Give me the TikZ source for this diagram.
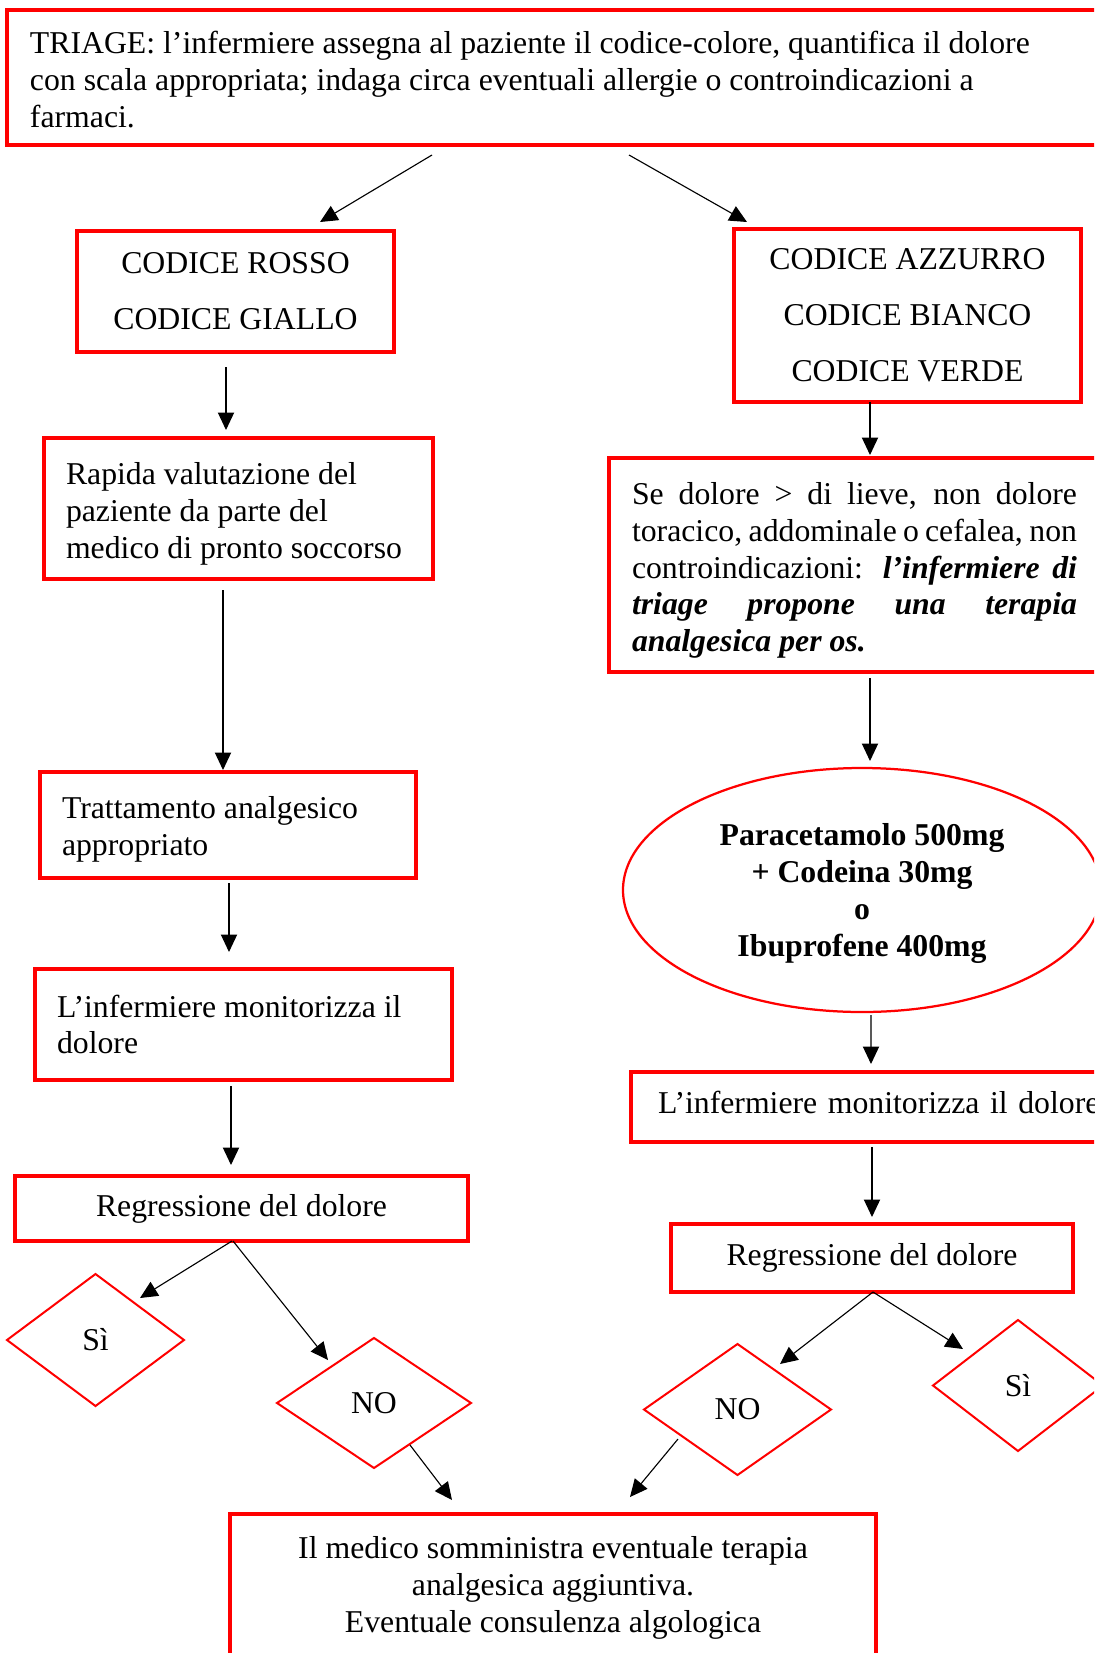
\documentclass[tikz,border=0pt]{standalone}
\usepackage{fontspec}
\setmainfont{Liberation Serif}
\usetikzlibrary{positioning,calc}
\usetikzlibrary{shapes.geometric, arrows.meta}
\newcommand{\wsp}{\spaceskip=0pt\xspaceskip=0pt\relax}
\tikzset{
  bx/.style={rectangle, draw=red, line width=1.25pt, inner ysep=0pt, outer sep=0pt, font=\fontsize{12.7}{14.7}\selectfont},
  bxl/.style={bx, align=left, inner xsep=8.8pt},
  bxc/.style={bx, align=center},
  dm/.style={diamond, draw=red, line width=0.8pt, inner sep=1pt, outer sep=0pt, font=\fontsize{12.7}{14.7}\selectfont},
  el/.style={ellipse, draw=red, line width=0.9pt, inner sep=0pt, outer sep=0pt, align=center, font=\fontsize{12.7}{14.7}\selectfont\bfseries},
  ar/.style={-{Triangle[length=7pt,width=6.5pt]}, line width=0.45pt},
  node distance=7mm
}

\begin{document}
\begin{tikzpicture}
	\useasboundingbox (0,0) rectangle (437.6pt,-661.2pt);
	\clip (0,0) rectangle (437.6pt,-661.2pt);
	\node[bxl, inner xsep=9.2pt, text width=426.8pt, text height=10.6pt, minimum height=54pt] (triage) at (225.4pt,-31pt)
	  {\wsp TRIAGE: l’infermiere assegna al paziente il codice-colore, quantifica il dolore\\
	   con scala appropriata; indaga circa eventuali allergie o controindicazioni a\\
	   farmaci.};
	% codice rosso / giallo
	\node[bxc, font=\fontsize{12.7}{22.4}\selectfont, minimum width=126.8pt, minimum height=48.4pt,
	  below=34.4pt of triage, xshift=-131.2pt] (rosso) {CODICE ROSSO\\CODICE GIALLO};
	\node[bxl, text width=138pt, text height=12.9pt, minimum height=56.4pt, below=34.4pt of rosso, xshift=1.2pt] (rapida)
	  {\wsp Rapida valutazione del\\paziente da parte del\\medico di pronto soccorso};
	\node[bxl, text width=132.8pt, text height=12.3pt, minimum height=42.4pt, below=77.2pt of rapida, xshift=-4.2pt] (tratt)
	  {\wsp Trattamento analgesico\\appropriato};
	\node[bxl, text width=149.2pt, minimum height=44.4pt, below=36.4pt of tratt, xshift=6.2pt] (monitL)
	  {\wsp L’infermiere monitorizza il\\dolore};
	\node[bxc, minimum width=181.2pt, minimum height=26pt, below=38.4pt of monitL, xshift=-0.8pt] (regrL)
	  {Regressione del dolore};
	\node[dm, minimum width=70.8pt, minimum height=52.8pt, below=13.2pt of regrL, xshift=-58.4pt] (siL) {Sì};
	\node[dm, minimum width=77.6pt, minimum height=52pt, below=38.8pt of regrL, xshift=53pt] (noL) {NO};
	% codice azzurro / bianco / verde
	\node[bxc, font=\fontsize{12.7}{22.4}\selectfont, minimum width=138.8pt, minimum height=69.2pt,
	  below=33.6pt of triage, xshift=137.6pt] (azzurro) {CODICE AZZURRO\\CODICE BIANCO\\CODICE VERDE};
	\node[bx, align=justify, inner xsep=9.2pt, text width=178pt, text height=13.1pt,
	  minimum height=85.6pt, below=22.4pt of azzurro, xshift=-21.2pt] (sedol)
	  {\tolerance=10000\hyphenpenalty=10000 Se dolore \textgreater{} di lieve, non dolore\linebreak
	   toracico, addominale o cefalea, non\linebreak
	   controindicazioni: \textbf{\textit{l’infermiere di\linebreak
	   triage propone una terapia\linebreak
	   analgesica per os.}}};
	\node[el, minimum width=191.2pt, minimum height=97.6pt, text height=55.7pt, below=38.4pt of sedol, xshift=3pt] (farmaci)
	  {Paracetamolo 500mg\\+ Codeina 30mg\\o\\Ibuprofene 400mg};
	\node[bxl, inner xsep=10.8pt, text width=190pt, text depth=3.4pt, minimum height=28pt, below=24pt of farmaci, xshift=13.4pt] (monitR)
	  {L’infermiere monitorizza il dolore};
	\node[bxc, minimum width=160.8pt, minimum height=27.2pt, below=32.8pt of monitR, xshift=-9.4pt] (regrR)
	  {Regressione del dolore};
	\node[dm, minimum width=74.8pt, minimum height=52.4pt, below=20.8pt of regrR, xshift=-53.8pt] (noR) {NO};
	\node[dm, minimum width=68pt, minimum height=52.4pt, below=11.2pt of regrR, xshift=58.4pt] (siR) {Sì};
	% medico
	\node[bxc, minimum width=258.4pt, minimum height=59.2pt, below=18.4pt of noL, xshift=71.6pt] (medico)
	  {Il medico somministra eventuale terapia\\analgesica aggiuntiva.\\Eventuale consulenza algologica};
	%
	\draw[ar] ([xshift=-52.6pt,yshift=-4pt]triage.south) -- ([xshift=33.8pt,yshift=3.6pt]rosso.north);
	\draw[ar] ([xshift=26.2pt,yshift=-4pt]triage.south) -- ([xshift=-64.2pt,yshift=2.8pt]azzurro.north);
	\draw[ar] ([xshift=-3.8pt,yshift=-6pt]rosso.south) -- ([xshift=-5pt,yshift=3.2pt]rapida.north);
	\draw[ar] ([xshift=-6.2pt,yshift=-4.4pt]rapida.south) -- ([xshift=-2pt,yshift=0.8pt]tratt.north);
	\draw[ar] ([xshift=0.4pt,yshift=-2pt]tratt.south) -- ([xshift=-5.8pt,yshift=6.8pt]monitL.north);
	\draw[ar] ([xshift=-5pt,yshift=-2.4pt]monitL.south) -- ([xshift=-4.2pt,yshift=4.4pt]regrL.north);
	\draw[ar] ([xshift=-3.8pt]regrL.south) -- ([xshift=17.8pt,yshift=16.8pt]siL.center);
	\draw[ar] ([xshift=-3.4pt]regrL.south) -- ([xshift=-18.4pt,yshift=17.2pt]noL.center);
	\draw[ar] ([xshift=14.4pt,yshift=-16.8pt]noL.center) -- ([xshift=-40.4pt,yshift=5.6pt]medico.north);
	\draw[ar] ([xshift=-15pt]azzurro.south) -- ([xshift=6.2pt,yshift=1.2pt]sedol.north);
	\draw[ar] ([xshift=6.2pt,yshift=-2.4pt]sedol.south) -- ([xshift=3.2pt,yshift=2.8pt]farmaci.north);
	\draw[ar] ([xshift=3.6pt,yshift=-1.2pt]farmaci.south) -- ([xshift=-9.8pt,yshift=3.2pt]monitR.north);
	\draw[ar] ([xshift=-9.4pt,yshift=-2pt]monitR.south) -- ([yshift=2.8pt]regrR.north);
	\draw[ar] ([xshift=0.4pt]regrR.south) -- ([xshift=17pt,yshift=18.2pt]noR.center);
	\draw[ar] ([xshift=0.4pt]regrR.south) -- ([xshift=-22pt,yshift=14.6pt]siR.center);
	\draw[ar] ([xshift=-23.8pt,yshift=-11.8pt]noR.center) -- ([xshift=30.8pt,yshift=6.8pt]medico.north);
\end{tikzpicture}
\end{document}
